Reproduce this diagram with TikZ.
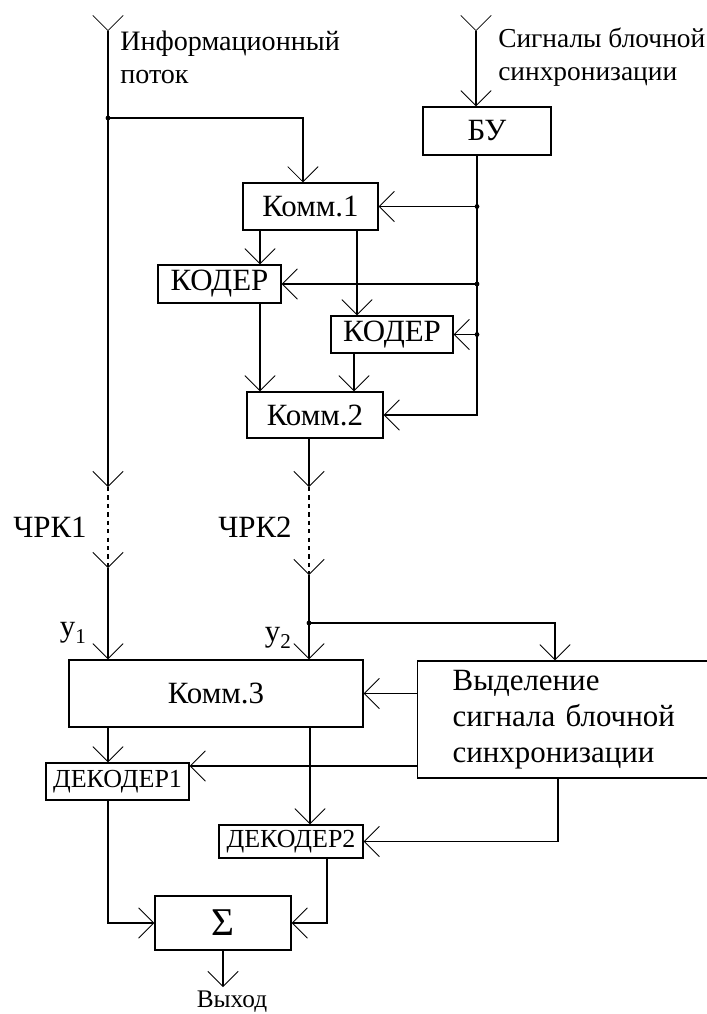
\documentclass[tikz,border=0pt]{standalone}
\usepackage{fontspec}
\setmainfont{Liberation Serif}
\usetikzlibrary{arrows.meta}

\begin{document}
\begin{tikzpicture}[x=0.25mm,y=-0.25mm]
    \tikzset{
        link/.style={line width=0.9pt},
        arc/.style={link, -{Straight Barb[length=3.8mm,width=7.6mm,line width=0.6pt]}},
        ant/.style={link, {Straight Barb[reversed,length=3.8mm,width=7.6mm,line width=0.6pt]}-{Straight Barb[length=3.8mm,width=7.6mm,line width=0.6pt]}},
        blk/.style={draw, line width=0.9pt, inner sep=0pt, font=\fontsize{22}{25}\selectfont},
        dec/.style={blk, font=\fontsize{18.5}{20}\selectfont},
        lbl/.style={inner sep=0pt, font=\fontsize{20}{23.5}\selectfont, align=left}
    }
    \useasboundingbox (0,0) rectangle (707,1014);

    % coder side
    \draw node[blk, minimum width=32mm, minimum height=12mm] (bu) at (487,131) {БУ};
    \draw node[blk, minimum width=33.75mm, minimum height=11.75mm] (komm1) at (310.5,206.5) {Комм.1};
    \draw node[blk, minimum width=30.75mm, minimum height=9.5mm] (kod1) at (219.5,284) {КОДЕР};
    \draw node[blk, minimum width=30.5mm, minimum height=9.25mm] (kod2) at (392,334.5) {КОДЕР};
    \draw node[blk, minimum width=34mm, minimum height=11.5mm] (komm2) at (315,415) {Комм.2};

    % decoder side
    \draw node[blk, minimum width=73.5mm, minimum height=16.75mm] (komm3) at (216,693.5) {Комм.3};
    \draw node[blk, anchor=west, minimum height=29.25mm, text width=58mm, inner xsep=8.75mm, align=left,
        font=\fontsize{22}{25.6}\selectfont] (sync) at (417,719.5) {Выделение\\сигнала блочной\\синхронизации};
    \draw node[dec, minimum width=35.75mm, minimum height=9.25mm] (dec1) at (117.5,781.5) {ДЕКОДЕР1};
    \draw node[dec, minimum width=36mm, minimum height=8.25mm] (dec2) at (291,841.5) {ДЕКОДЕР2};
    \draw node[blk, minimum width=34mm, minimum height=13.5mm, font=\fontsize{28}{30}\selectfont] (sum) at (223,923) {Σ};

    % labels
    \node[lbl, anchor=north west] (info) at (120,31) {Информационный\\поток};
    \node[lbl, anchor=north west, font=\fontsize{19.5}{23.5}\selectfont] (sig) at (498,28) {Сигналы блочной\\синхронизации};
    \node[lbl, font=\fontsize{22}{24}\selectfont] (ch1) at (50,527) {ЧРК1};
    \node[lbl, font=\fontsize{22}{24}\selectfont] (ch2) at (255,527) {ЧРК2};
    \node[lbl, font=\fontsize{22}{24}\selectfont] (y1) at (73,633) {у\raisebox{-5pt}{\fontsize{15}{15}\selectfont 1}};
    \node[lbl, font=\fontsize{22}{24}\selectfont] (y2) at (278,638) {у\raisebox{-5pt}{\fontsize{15}{15}\selectfont 2}};
    \node[lbl, font=\fontsize{18}{20}\selectfont] (out) at (232,1002) {Выход};

    % points on the lines
    \coordinate (a1) at (108,15);
    \coordinate (a2) at (476,15);
    \coordinate (j1) at (108,118);
    \coordinate (r1) at (108,487);
    \coordinate (r2) at (108,568);
    \coordinate (r3) at (309,487);
    \coordinate (r4) at (309,575);
    \coordinate (j2) at (309,623);
    \coordinate (b1) at (477,206.5);
    \coordinate (b2) at (477,284);
    \coordinate (b3) at (477,334.5);
    \coordinate (o) at (223,987);

    % inputs
    \draw[ant] (a1) -- (r1);
    \draw[ant] (a2) -- (bu.north -| a2);
    \draw[arc] (j1) -| ([xshift=-1.9mm]komm1.north);

    % block sync bus
    \draw[arc] (bu.south -| b1) |- (komm2);
    \foreach \c/\b in {b1/komm1, b2/kod1, b3/kod2}{
        \draw (\c) edge[arc] (\b);
    }

    % verticals between blocks
    \foreach \x/\a/\b in {260/komm1/kod1, 357/komm1/kod2, 260/kod1/komm2, 354/kod2/komm2, 108/komm3/dec1, 310/komm3/dec2}{
        \draw[arc] (\a.south -| \x,0) -- (\b.north -| \x,0);
    }

    % channels
    \draw[arc] (komm2.south -| r3) -- (r3);
    \draw[arc, dashed] (r1) -- (r2);
    \draw[arc, dashed] (r3) -- (r4);
    \draw[arc] (r2) -- (komm3.north -| r2);
    \draw[arc] (r4) -- (komm3.north -| r4);
    \draw[arc] (j2) -| (sync.north -| 555,0);

    % receiver
    \draw[arc] (sync.west |- komm3.east) -- (komm3.east);
    \draw[arc] (sync.west |- 0,766) -- (dec1.east |- 0,766);
    \draw[arc] (sync.south -| 558,0) |- (dec2);
    \draw[arc] (dec1.south -| 108,0) |- (sum);
    \draw[arc] (dec2.south -| 327,0) |- (sum);
    \draw[arc] (sum) -- (o);

    \foreach \p in {j1,j2,b1,b2,b3}{
        \fill (\p) circle (0.6mm);
    }
\end{tikzpicture}
\end{document}
